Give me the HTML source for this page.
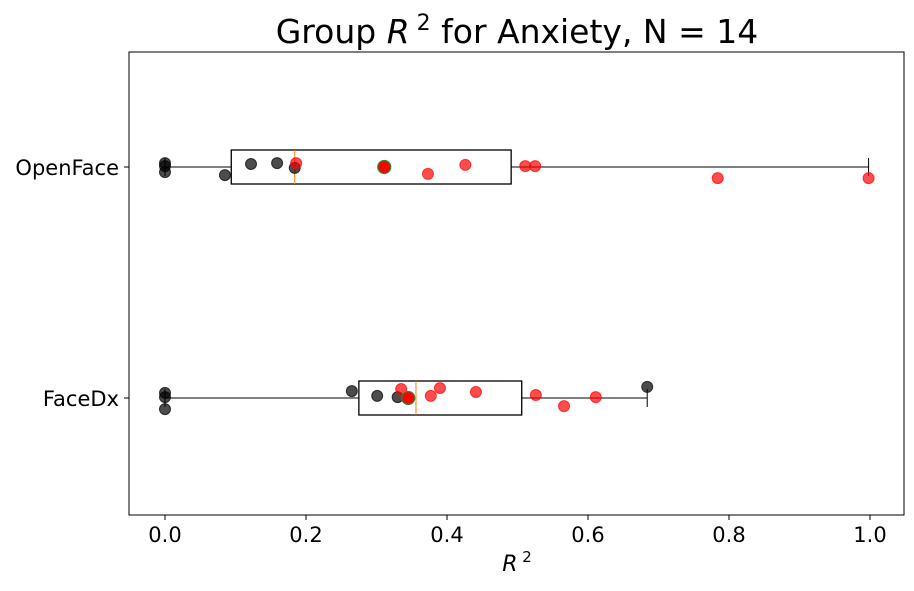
<!DOCTYPE html>
<html><head><meta charset="utf-8"><style>
body{margin:0;background:#fff}
svg{font-family:"DejaVu Sans","Liberation Sans",sans-serif}
</style></head><body>
<svg id="c" width="914" height="586" viewBox="0 0 914 586"></svg>
<script>
const categories=["FaceDx","OpenFace"];
const openfaceBlack=[0,0,0,0.085,0.122,0.159,0.184];
const openfaceBlackJit=[0.017,0.004,-0.022,-0.035,0.013,0.017,-0.004];
const openfaceRed=[0.186,0.373,0.426,0.511,0.525,0.784,0.998];
const openfaceRedJit=[0.017,-0.030,0.009,0.004,0.004,-0.048,-0.048];
const facedxBlack=[0,0,0,0.265,0.301,0.33,0.684];
const facedxBlackJit=[0.022,0.004,-0.048,0.030,0.009,0.004,0.048];
const facedxRed=[0.335,0.377,0.39,0.441,0.526,0.566,0.611];
const facedxRedJit=[0.039,0.009,0.043,0.026,0.013,-0.035,0.004];
const boxQ1=[0.275,0.094], boxMed=[0.356,0.184], boxQ3=[0.506,0.491], whiskLo=[0,0], whiskHi=[0.684,0.998];
const means=[0.345,0.311];
const xTicks=[0,0.2,0.4,0.6,0.8,1.0];
const xTickLabels=["0.0","0.2","0.4","0.6","0.8","1.0"];
const L=129,R=904,T=52,B=515;
const X=v=>165+v*705;
const Y=v=>398-(v-1)*231;
const svg=document.getElementById('c');
const NS='http://www.w3.org/2000/svg';
function mk(t,a,txt){const e=document.createElementNS(NS,t);for(const k in a)e.setAttribute(k,a[k]);if(txt!==undefined)e.textContent=txt;svg.appendChild(e);return e;}
let e;
e=mk('rect',{x:L,y:T,width:R-L,height:B-T,fill:'none',stroke:'#000','stroke-width':1});


xTicks.forEach((t,i)=>{
 e=mk('line',{x1:X(t),x2:X(t),y1:B,y2:B+5,stroke:'#000'});
 
 
 e=mk('text',{x:X(t),y:B+27,'text-anchor':'middle','font-size':21},xTickLabels[i]);
 
 
});
categories.forEach((c,i)=>{
 const cy=Y(i+1);
 e=mk('line',{x1:L-5,x2:L,y1:cy,y2:cy,stroke:'#000'});
 
 
 e=mk('text',{x:L-10,y:cy+8,'text-anchor':'end','font-size':21},c);
 
 
 const h=17;
 e=mk('line',{x1:X(whiskLo[i]),x2:X(boxQ1[i]),y1:cy,y2:cy,stroke:'#000'});
 
 
 e=mk('line',{x1:X(boxQ3[i]),x2:X(whiskHi[i]),y1:cy,y2:cy,stroke:'#000'});
 
 
 [whiskLo[i],whiskHi[i]].forEach(w=>{
  e=mk('line',{x1:X(w),x2:X(w),y1:cy-9,y2:cy+9,stroke:'#000'});
  
  
 });
 e=mk('rect',{x:X(boxQ1[i]),y:cy-h,width:X(boxQ3[i])-X(boxQ1[i]),height:2*h,fill:'none',stroke:'#000','stroke-width':1.3});
 
 
 e=mk('line',{x1:X(boxMed[i]),x2:X(boxMed[i]),y1:cy-h,y2:cy+h,stroke:'#ff7f0e'});
 
 
});
function pts(vals,jit,cat,color,name){
 vals.forEach((v,i)=>{
  e=mk('circle',{cx:X(v),cy:Y(cat+jit[i]),r:5.5,fill:color,'fill-opacity':0.7,stroke:color,'stroke-opacity':0.7});
  
  
 });
}
pts(openfaceBlack,openfaceBlackJit,2,'#000','openface-point');
pts(openfaceRed,openfaceRedJit,2,'#ff0000','openface-point');
pts(facedxBlack,facedxBlackJit,1,'#000','facedx-point');
pts(facedxRed,facedxRedJit,1,'#ff0000','facedx-point');
means.forEach((m,i)=>{
 e=mk('circle',{cx:X(m),cy:Y(i+1),r:6.5,fill:'#ff0000',stroke:'#2a8a2a','stroke-width':1.2});
 
 
});
e=mk('text',{x:517,y:43,'text-anchor':'middle','font-size':33});
e.innerHTML='Group <tspan font-style="italic">R</tspan><tspan font-size="22" dy="-13"> 2</tspan><tspan dy="13"> for Anxiety, N = 14</tspan>';


e=mk('text',{x:517,y:571,'text-anchor':'middle','font-size':22});
e.innerHTML='<tspan font-style="italic">R</tspan><tspan font-size="15" dy="-9"> 2</tspan>';


</script>
</body></html>
